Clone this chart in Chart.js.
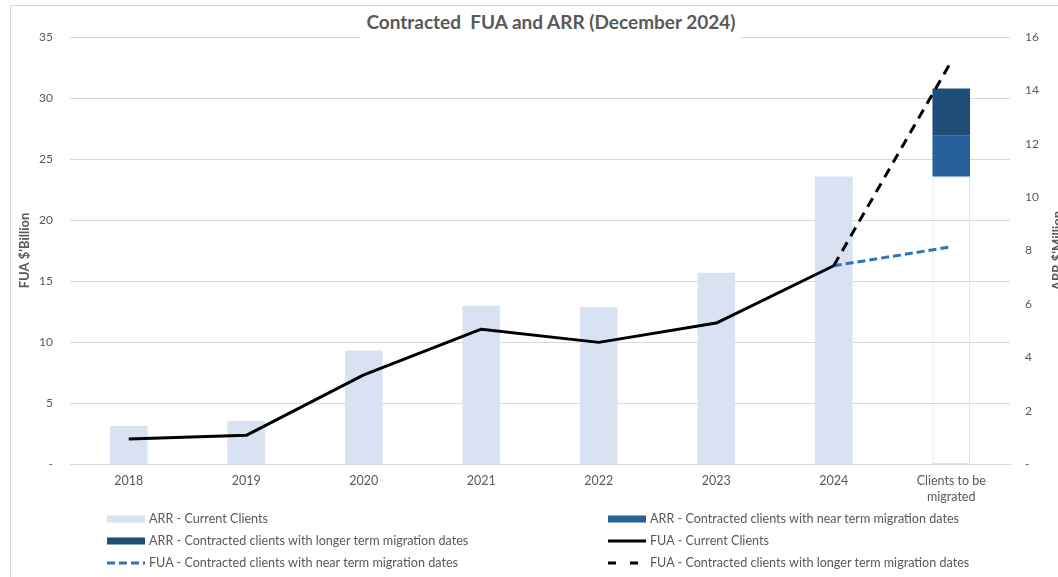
<!DOCTYPE html>
<html><head><meta charset="utf-8">
<script src="https://cdn.jsdelivr.net/npm/chart.js@4/dist/chart.umd.min.js"></script>
<style>
html,body{margin:0;padding:0;background:#fff;overflow:hidden;}
#wrap{position:relative;width:1058px;height:577px;overflow:hidden;background:#fff;}
#c{position:absolute;left:0;top:0;}
#frame{position:absolute;left:10px;top:5px;width:1100px;height:600px;border-left:1px solid #d9d9d9;border-top:1px solid #d9d9d9;pointer-events:none;}
#title{position:absolute;top:8px;left:361px;width:380px;height:30px;background:#fff;text-align:center;font-family:Lato,'Open Sans',sans-serif;font-weight:bold;font-size:19px;color:#595959;line-height:28px;white-space:pre;}
.leg{position:absolute;font-family:Lato,'Open Sans',sans-serif;font-size:12.6px;color:#595959;white-space:nowrap;line-height:16px;}
.leg svg{position:absolute;left:0;top:4px;}
.leg span{position:absolute;left:42px;top:0;}
</style>
</head><body>
<div id="wrap">
<canvas id="c" width="1058" height="577"></canvas>
<div id="frame"></div>
<div id="title">Contracted  FUA and ARR (December 2024)</div>
<div id="legend"></div>
</div>
<script>
// ---- data ----
const categories = ['2018','2019','2020','2021','2022','2023','2024',['Clients to be','migrated']];
const arrCurrent = [1.42, 1.61, 4.25, 5.93, 5.87, 7.17, 10.77, null];
const arrBase    = [null, null, null, null, null, null, null, [0, 10.77]];
const arrNear    = [null, null, null, null, null, null, null, [10.77, 12.3]];
const arrLonger  = [null, null, null, null, null, null, null, [12.3, 14.07]];
const fuaCurrent = [2.05, 2.35, 7.3, 11.05, 9.97, 11.55, 16.25, null];
const fuaNear    = [null, null, null, null, null, null, 16.25, 17.8];
const fuaLonger  = [null, null, null, null, null, null, 16.25, 33.0];
const fuaTicks = [0, 5, 10, 15, 20, 25, 30, 35];
const arrTicks = [0, 2, 4, 6, 8, 10, 12, 14, 16];

const FONT = "Lato, 'Open Sans', sans-serif";
const GREY = '#595959';
Chart.defaults.font.family = FONT;
Chart.defaults.color = GREY;

const C_LIGHT = '#d9e2f3', C_NEAR = '#27609a', C_LONG = '#1f4e79', C_BLUE = '#2e75b6';

const barCommon = {type:'bar', yAxisID:'yR', grouped:false, categoryPercentage:1, barPercentage:0.32, order:2, borderWidth:0};
const datasets = [
  Object.assign({}, barCommon, {label:'ARR - Current Clients', data:arrCurrent, backgroundColor:C_LIGHT, leg:{kind:'bar', color:C_LIGHT}}),
  Object.assign({}, barCommon, {label:'ARR - Contracted clients with near term migration dates', data:arrNear, backgroundColor:C_NEAR, leg:{kind:'bar', color:C_NEAR}}),
  Object.assign({}, barCommon, {label:'ARR - Contracted clients with longer term migration dates', data:arrLonger, backgroundColor:C_LONG, leg:{kind:'bar', color:C_LONG}}),
  {type:'line', label:'FUA - Current Clients', data:fuaCurrent, yAxisID:'yL', borderColor:'#000', borderWidth:3, pointRadius:0, tension:0, order:0, borderJoinStyle:'round', leg:{kind:'line', color:'#000', dash:null}},
  {type:'line', label:'FUA - Contracted clients with near term migration dates', data:fuaNear, yAxisID:'yL', borderColor:C_BLUE, borderWidth:3, borderDash:[8,4], pointRadius:0, tension:0, order:1, leg:{kind:'line', color:C_BLUE, dash:'8 4'}},
  {type:'line', label:'FUA - Contracted clients with longer term migration dates', data:fuaLonger, yAxisID:'yL', borderColor:'#000', borderWidth:3, borderDash:[10,7], pointRadius:0, tension:0, order:0, leg:{kind:'line', color:'#000', dash:'8 14'}},
  Object.assign({}, barCommon, {label:'base', data:arrBase, backgroundColor:'rgba(0,0,0,0)', borderColor:'#e4e4e4', borderWidth:1, borderSkipped:false, order:3, leg:null})
];

// right-axis title, reading bottom-to-top like the reference
const rightTitle = {
  id:'rightTitle',
  afterDraw(chart){
    const ca = chart.chartArea, ctx = chart.ctx;
    ctx.save();
    ctx.translate(1058, (ca.top + ca.bottom)/2);
    ctx.rotate(-Math.PI/2);
    ctx.font = "bold 13px " + FONT;
    ctx.fillStyle = GREY;
    ctx.textAlign = 'center';
    ctx.textBaseline = 'middle';
    ctx.fillText("ARR $'Million", 0, 0);
    ctx.restore();
  }
};

new Chart(document.getElementById('c'), {
  data:{labels:categories, datasets:datasets},
  plugins:[rightTitle],
  options:{
    responsive:false, animation:false, devicePixelRatio:1,
    layout:{padding:{top:37, bottom:69, left:0, right:0}},
    plugins:{legend:{display:false}, title:{display:false}, tooltip:{enabled:false}},
    scales:{
      x:{
        grid:{display:false, drawTicks:false},
        border:{display:true, color:'#d9d9d9', width:1},
        ticks:{color:GREY, font:{size:12.5, lineHeight:1.3}, padding:9, maxRotation:0, autoSkip:false},
        afterFit:(s)=>{s.height=44;}
      },
      yL:{
        position:'left', min:0, max:35,
        afterBuildTicks:(s)=>{s.ticks = fuaTicks.map(v=>({value:v}));},
        grid:{color:'#d9d9d9', drawTicks:false, lineWidth:1},
        border:{display:false},
        ticks:{color:GREY, font:{size:12}, padding:17, callback:(v)=> v===0 ? '-' : v},
        title:{display:true, text:"FUA $'Billion", color:GREY, font:{size:13, weight:'bold'}, padding:{top:17,bottom:0}},
        afterFit:(s)=>{s.width=70;}
      },
      yR:{
        position:'right', min:0, max:16,
        afterBuildTicks:(s)=>{s.ticks = arrTicks.map(v=>({value:v}));},
        grid:{display:false, drawTicks:false},
        border:{display:false},
        ticks:{color:GREY, font:{size:12}, padding:15, callback:(v)=> v===0 ? '-' : v},
        afterFit:(s)=>{s.width=48;}
      }
    }
  }
});

// ---- HTML legend (2 columns, 3 rows) ----
const legX = [107, 608], legY = [511, 533, 555];
const leg = document.getElementById('legend');
datasets.filter(d=>d.leg).forEach((d,i)=>{
  const el = document.createElement('div');
  el.className = 'leg';
  el.style.left = legX[i%2] + 'px';
  el.style.top = legY[Math.floor(i/2)] + 'px';
  let svg;
  if (d.leg.kind==='bar') {
    svg = `<svg width="38" height="8"><rect x="0" y="0.5" width="38" height="7" fill="${d.leg.color}"/></svg>`;
  } else {
    svg = `<svg width="38" height="8"><line x1="0" y1="4" x2="38" y2="4" stroke="${d.leg.color}" stroke-width="3" ${d.leg.dash?`stroke-dasharray="${d.leg.dash}"`:''}/></svg>`;
  }
  el.innerHTML = svg + `<span>${d.label}</span>`;
  leg.appendChild(el);
});
</script>
</body></html>
